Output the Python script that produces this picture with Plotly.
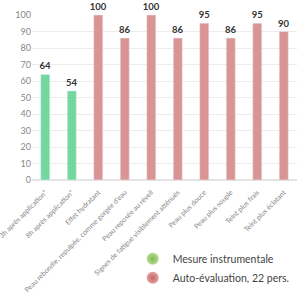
import plotly.graph_objects as go

categories = [
    "3h après application*",
    "8h après application*",
    "Effet hydratant",
    "Peau rebondie, repulpée, comme gorgée d'eau",
    "Peau reposée au réveil",
    "Signes de fatigue visiblement atténués",
    "Peau plus douce",
    "Peau plus souple",
    "Teint plus frais",
    "Teint plus éclatant",
]
values = [64, 54, 100, 86, 100, 86, 95, 86, 95, 90]
groups = ["instr", "instr", "auto", "auto", "auto", "auto", "auto", "auto", "auto", "auto"]
legend_names = {"instr": "Mesure instrumentale", "auto": "Auto-évaluation, 22 pers."}
tick_vals = [0, 10, 20, 30, 40, 50, 60, 70, 80, 90, 100]

GREEN = "#72d89d"
RED = "#db9494"
colors = [GREEN if g == "instr" else RED for g in groups]

fig = go.Figure()
fig.add_trace(go.Bar(
    x=categories, y=values, marker_color=colors,
    text=[str(v) for v in values], textposition="outside",
    textfont=dict(family="Lato", size=9.5, color="#333333"),
    texttemplate="<b>%{text}</b>", cliponaxis=False, showlegend=False,
    constraintext="none",
))
# legend entries
for key, col, dark in [("instr", "#b5dc8a", "#7fb85a"), ("auto", "#e6a0a0", "#c46565")]:
    fig.add_trace(go.Scatter(
        x=[None], y=[None], mode="markers", name=legend_names[key],
        marker=dict(symbol="circle", size=15, color=col,
                    gradient=dict(type="radial", color=dark)),
    ))

fig.update_layout(
    width=300, height=300,
    margin=dict(l=32, r=3, t=15, b=120, autoexpand=False),
    paper_bgcolor="white", plot_bgcolor="white",
    bargap=0.66,
    font=dict(family="Lato", color="#666666"),
    xaxis=dict(tickangle=-45, tickfont=dict(size=7, color="#888888"),
               showgrid=False, showline=False, ticks="", automargin=False,
               ticklabelstandoff=6),
    yaxis=dict(range=[0, 100], tickvals=tick_vals,
               tickfont=dict(size=9, color="#888888"),
               gridcolor="#ececec", zeroline=True, zerolinecolor="#e4e4e4",
               showline=False, ticks="", automargin=False),
    legend=dict(x=0.38, y=-0.39, xanchor="left", yanchor="top",
                font=dict(size=10.5, color="#444444"),
                itemsizing="constant", tracegroupgap=0, bgcolor="rgba(0,0,0,0)"),
    showlegend=True,
)

fig.write_html("out.html")
